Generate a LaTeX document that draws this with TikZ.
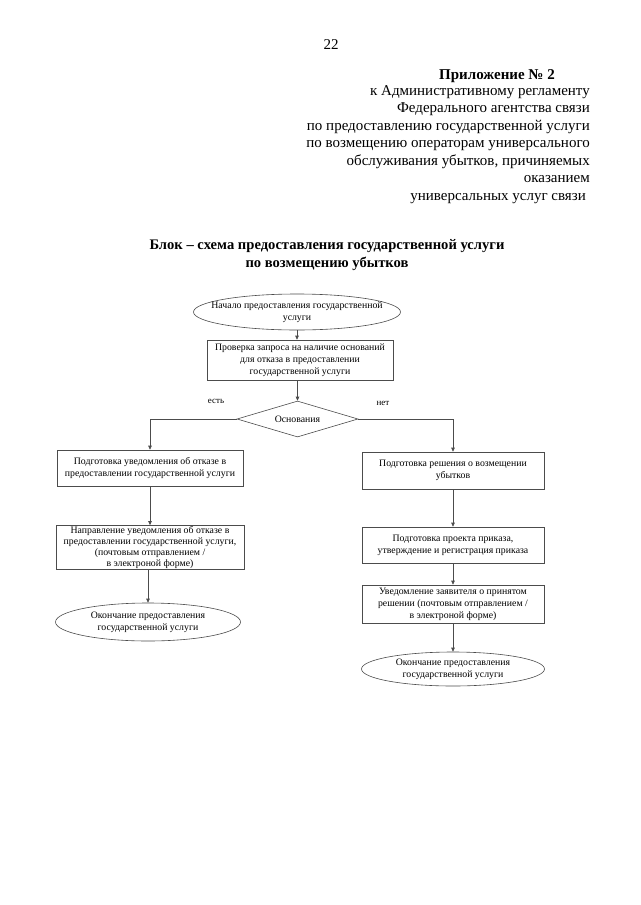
\documentclass[tikz,border=0pt]{standalone}
\usepackage{fontspec}
\setmainfont{Liberation Serif}
\usetikzlibrary{shapes.geometric,arrows.meta}
\begin{document}
\begin{tikzpicture}[x=1pt,y=-1pt,
  hdr/.style={inner sep=0pt,font=\fontsize{15}{18}\selectfont},
  ttl/.style={inner sep=0pt,font=\fontsize{14.6}{17}\selectfont\bfseries},
  proc/.style={draw=black!70,line width=0.6pt,rectangle,inner sep=1pt,align=center,
    font=\fontsize{9.8}{12}\selectfont},
  term/.style={draw=black!70,line width=0.6pt,ellipse,inner sep=0pt,align=center,
    font=\fontsize{9.8}{12}\selectfont},
  dec/.style={draw=black!70,line width=0.6pt,diamond,aspect=3.36,inner sep=0pt,
    minimum width=121pt,minimum height=36pt,font=\fontsize{9.8}{12}\selectfont},
  lbl/.style={inner sep=0pt,font=\fontsize{9}{11}\selectfont},
  flow/.style={draw=black!70,line width=0.6pt,-{Triangle[length=4pt,width=3.5pt]}}
]
\useasboundingbox[fill=white] (0,0) rectangle (640,905);

% header
\node[hdr] (pg) at (331,45) {22};
\node[hdr,font=\fontsize{15}{18}\selectfont\bfseries] (h0) at (497,76) {Приложение № 2};
\node[hdr,anchor=mid east] (h1) at (590,93) {к Административному регламенту};
\node[hdr,anchor=mid east] (h2) at (590,110.5) {Федерального агентства связи};
\node[hdr,anchor=mid east] (h3) at (590,128) {по предоставлению государственной услуги};
\node[hdr,anchor=mid east] (h4) at (590,145.5) {по возмещению операторам универсального};
\node[hdr,anchor=mid east] (h5) at (590,163) {обслуживания убытков, причиняемых};
\node[hdr,anchor=mid east] (h6) at (590,180.5) {оказанием};
\node[hdr,anchor=mid east] (h7) at (586,198) {универсальных услуг связи};

\node[ttl] (t1) at (327,246) {Блок – схема предоставления государственной услуги};
\node[ttl] (t2) at (327,264) {по возмещению убытков};

% flowchart
\node[term,inner xsep=-13pt,minimum width=207pt,minimum height=36pt] (start) at (297,312)
  {Начало предоставления государственной\\услуги};
\node[proc,minimum width=186pt,minimum height=40pt] (chk) at (300,360)
  {Проверка запроса на наличие оснований\\для отказа в предоставлении\\государственной услуги};
\node[dec] (d) at (297.5,419) {Основания};
\node[lbl] (yes) at (216,401) {есть};
\node[lbl] (no) at (383,403) {нет};

\node[proc,minimum width=186pt,minimum height=36pt] (l1) at (150,468)
  {Подготовка уведомления об отказе в\\предоставлении государственной услуги};
\node[proc,minimum width=188pt,minimum height=41pt,font=\fontsize{9.8}{11}\selectfont] (l2) at (150,547.5)
  {Направление уведомления об отказе в\\предоставлении государственной услуги,\\(почтовым отправлением /\\в электроной форме)};
\node[term,minimum width=185pt,minimum height=38pt] (lend) at (148,622)
  {Окончание предоставления\\государственной услуги};

\node[proc,minimum width=182pt,minimum height=37pt] (r1) at (453,470.5)
  {Подготовка решения о возмещении\\убытков};
\node[proc,minimum width=182pt,minimum height=36pt] (r2) at (453,545)
  {Подготовка проекта приказа,\\утверждение и регистрация приказа};
\node[proc,minimum width=182pt,minimum height=38pt] (r3) at (453,604)
  {Уведомление заявителя о принятом\\решении  (почтовым отправлением /\\в электроной форме)};
\node[term,minimum width=183pt,minimum height=34pt] (rend) at (453,669)
  {Окончание предоставления\\государственной услуги};

\draw[flow] (start.south) -- (start.south |- chk.north);
\draw[flow] (d.north |- chk.south) -- (d.north);
\draw[flow] (d.west) -| (l1.north);
\draw[flow] (d.east) -| (r1.north);
\draw[flow] (l1.south) -- (l2.north);
\draw[flow] (l2.south -| lend.north) -- (lend.north);
\draw[flow] (r1.south) -- (r2.north);
\draw[flow] (r2.south) -- (r3.north);
\draw[flow] (r3.south) -- (rend.north);
\end{tikzpicture}
\end{document}
